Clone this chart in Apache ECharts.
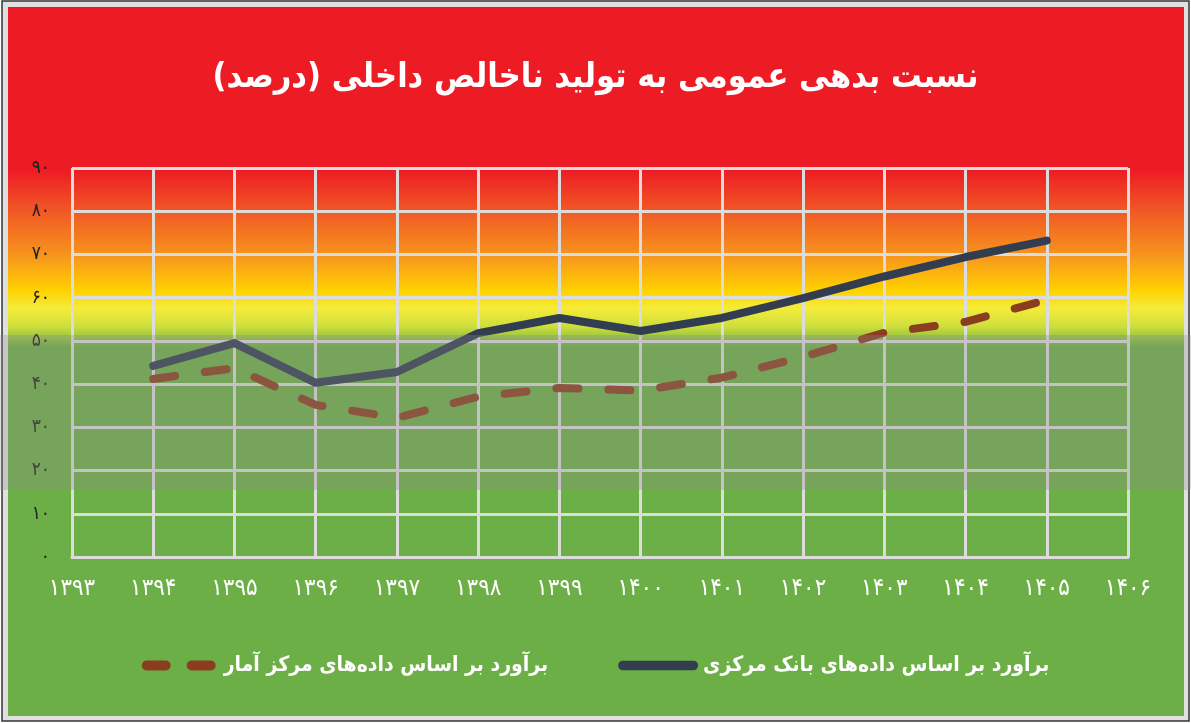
<!DOCTYPE html>
<html><head><meta charset="utf-8">
<script src="https://cdn.jsdelivr.net/npm/echarts@6/dist/echarts.min.js"></script>
<style>html,body{margin:0;padding:0;background:#fff}#c{width:1191px;height:723px}</style>
</head><body><div id="c"></div>
<script>
const titleText = 'نسبت بدهی عمومی به تولید ناخالص داخلی (درصد)';
const years = ['۱۳۹۳','۱۳۹۴','۱۳۹۵','۱۳۹۶','۱۳۹۷','۱۳۹۸','۱۳۹۹','۱۴۰۰','۱۴۰۱','۱۴۰۲','۱۴۰۳','۱۴۰۴','۱۴۰۵','۱۴۰۶'];
const seriesBankName = 'برآورد بر اساس داده‌های بانک مرکزی';
const seriesStatName = 'برآورد بر اساس داده‌های مرکز آمار';
const bankValues = ['-',44.2,49.5,40.3,42.8,51.8,55.3,52.3,55.3,59.9,64.9,69.4,73.2,'-'];
const statValues = ['-',41.2,43.7,35.2,32.2,37.1,39.1,38.5,41.5,46.3,51.9,54.4,59.5,'-'];
const yTickLabels = {0:'۰',10:'۱۰',20:'۲۰',30:'۳۰',40:'۴۰',50:'۵۰',60:'۶۰',70:'۷۰',80:'۸۰',90:'۹۰'};

const chart = echarts.init(document.getElementById('c'));
const F = 'DejaVu Sans Condensed, DejaVu Sans';
const dashIcon = 'path://M5,0H24A5,5 0 0 1 24,10H5A5,5 0 0 1 5,0ZM50,0H69A5,5 0 0 1 69,10H50A5,5 0 0 1 50,0Z';
const solidIcon = 'path://M5,0H78A5,5 0 0 1 78,10H5A5,5 0 0 1 5,0Z';
chart.setOption({
  animation:false,
  backgroundColor:'#ffffff',
  graphic:[
    {type:'rect', z:-10, silent:true, shape:{x:2,y:1,width:1187,height:720}, style:{fill:'#e0e0e0', stroke:'#333', lineWidth:1.5}},
    {type:'rect', z:-9, silent:true, shape:{x:8,y:7,width:1176,height:709},
     style:{fill:new echarts.graphic.LinearGradient(0,0,0,1,[
       {offset:0,color:'#ED1C24'},{offset:0.23,color:'#ED1C24'},
       {offset:0.29,color:'#F15A24'},{offset:0.35,color:'#F7941D'},
       {offset:0.40,color:'#FFD200'},{offset:0.425,color:'#F4EC3A'},
       {offset:0.45,color:'#CFDF3C'},{offset:0.48,color:'#6DAF47'},
       {offset:1,color:'#6DAF47'}])}},
    {type:'rect', z:100, silent:true, shape:{x:0,y:335,width:1191,height:155}, style:{fill:'rgba(140,140,140,0.30)'}}
  ],
  title:{text:titleText, left:'center', top:56,
    textStyle:{color:'#fff', fontFamily:F, fontWeight:'bold', fontSize:34}},
  grid:{left:72, right:63, top:168, bottom:166},
  legend:{bottom:42, left:'center', itemWidth:80, itemHeight:10, itemGap:70,
    data:[{name:seriesStatName, icon:dashIcon}, {name:seriesBankName, icon:solidIcon}],
    textStyle:{color:'#fff', fontFamily:F, fontWeight:'bold', fontSize:21}},
  xAxis:{type:'category', data:years, boundaryGap:false,
    axisLine:{show:true, lineStyle:{color:'#dcdcdc', width:3}},
    axisTick:{show:false},
    axisLabel:{color:'#fff', fontFamily:F, fontSize:24, margin:20},
    splitLine:{show:true, lineStyle:{color:'#dcdcdc', width:3}}},
  yAxis:{type:'value', min:0, max:90, interval:10,
    axisLine:{show:false}, axisTick:{show:false},
    axisLabel:{color:'#222', fontFamily:F, fontSize:19, margin:22, formatter:v=>yTickLabels[v]},
    splitLine:{lineStyle:{color:'#dcdcdc', width:3}}},
  series:[
    {name:seriesStatName, type:'line', data:statValues, showSymbol:false, symbol:'none',
     color:'#8B3E1F', itemStyle:{color:'#8B3E1F'},
     lineStyle:{color:'#8B3E1F', width:8, type:[22,30], cap:'round'}},
    {name:seriesBankName, type:'line', data:bankValues, showSymbol:false, symbol:'none',
     color:'#323E4F', itemStyle:{color:'#323E4F'},
     lineStyle:{color:'#323E4F', width:8, cap:'round', join:'round'}}
  ]
});
</script></body></html>
